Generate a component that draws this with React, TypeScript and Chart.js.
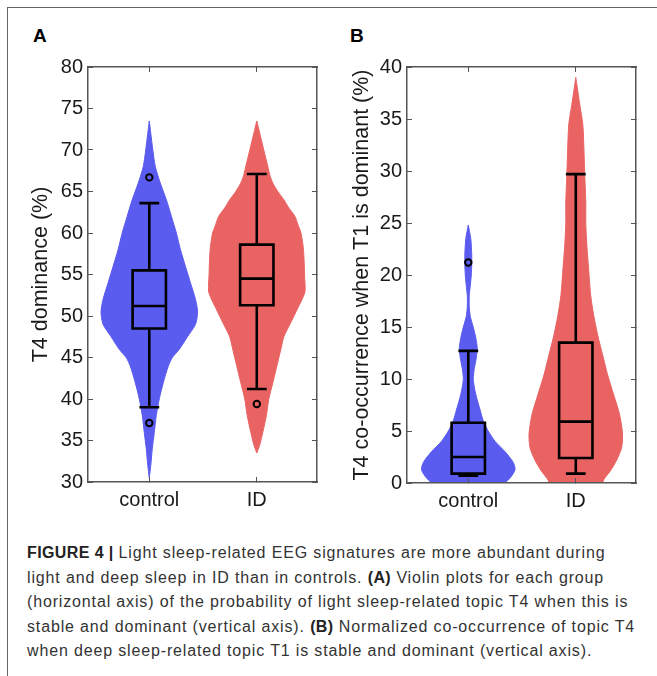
import React, { useEffect, useRef } from 'react';
import Chart from 'chart.js/auto';

// === Groups (x axis) ===
const GROUPS = ['control', 'ID'];
const GROUP_POS = [1, 2];

// === Panel A: T4 dominance (%) ===
// violin outline: y levels and half-width (in group units) at each level
const A_CTRL_LEVELS = [30.5, 32, 34, 36, 38, 40, 42, 44, 45, 46, 47.5, 49, 50.5, 52, 54, 56, 58, 60, 62, 64, 66, 68, 70, 72, 73.5];
const A_CTRL_WIDTH = [0, 0.014, 0.028, 0.047, 0.065, 0.093, 0.131, 0.178, 0.215, 0.28, 0.355, 0.43, 0.449, 0.43, 0.383, 0.336, 0.29, 0.252, 0.206, 0.159, 0.103, 0.056, 0.033, 0.014, 0];
const A_ID_LEVELS = [33.5, 34.5, 36, 38, 40, 42, 44, 46, 47.5, 49, 50, 51, 52, 53, 55, 57, 58.5, 60, 61, 62, 63, 64, 65, 66, 67, 68, 70, 72, 73.5];
const A_ID_WIDTH = [0, 0.028, 0.056, 0.089, 0.112, 0.15, 0.187, 0.224, 0.252, 0.308, 0.346, 0.383, 0.421, 0.449, 0.444, 0.439, 0.43, 0.411, 0.383, 0.355, 0.299, 0.252, 0.196, 0.15, 0.121, 0.103, 0.065, 0.028, 0];
// box: [lower whisker, q1, median, q3, upper whisker]
const A_CTRL_BOX = [39.0, 48.5, 51.2, 55.5, 63.6];
const A_ID_BOX = [41.2, 51.3, 54.5, 58.6, 67.1];
const A_CTRL_OUTLIERS = [66.7, 37.1];
const A_ID_OUTLIERS = [39.4];

// === Panel B: T4 co-occurrence when T1 is dominant (%) ===
const B_CTRL_LEVELS = [-0.8, 0, 0.6, 1.3, 2, 3, 4, 5, 6, 7, 8, 9, 10, 11, 12, 13, 14, 15, 16, 17, 18, 19, 20, 21, 22, 23.5, 24.8];
const B_CTRL_WIDTH = [0.278, 0.343, 0.398, 0.435, 0.417, 0.343, 0.25, 0.185, 0.139, 0.111, 0.083, 0.06, 0.046, 0.056, 0.074, 0.083, 0.069, 0.046, 0.019, 0.009, 0.009, 0.019, 0.028, 0.032, 0.032, 0.023, 0];
const B_ID_LEVELS = [-0.8, 0.3, 1.2, 2.2, 3.4, 4.7, 6.6, 8.5, 10.4, 12.3, 14.2, 16.1, 18, 20.5, 23, 25, 27, 29.7, 32.6, 34.5, 36.4, 38, 39];
const B_ID_WIDTH = [0.222, 0.259, 0.324, 0.38, 0.426, 0.435, 0.407, 0.352, 0.296, 0.25, 0.204, 0.167, 0.139, 0.12, 0.102, 0.093, 0.093, 0.083, 0.074, 0.065, 0.037, 0.014, 0];
const B_CTRL_BOX = [0.7, 0.9, 2.5, 5.8, 12.7];
const B_ID_BOX = [0.9, 2.4, 5.9, 13.5, 29.7];
const B_CTRL_OUTLIERS = [21.2];
const B_ID_OUTLIERS: number[] = [];

// === Caption ===
const CAPTION: [string, boolean][][] = [
  [['FIGURE 4 | ', true], ['Light sleep-related EEG signatures are more abundant during', false]],
  [['light and deep sleep in ID than in controls. ', false], ['(A)', true], [' Violin plots for each group', false]],
  [['(horizontal axis) of the probability of light sleep-related topic T4 when this is', false]],
  [['stable and dominant (vertical axis). ', false], ['(B)', true], [' Normalized co-occurrence of topic T4', false]],
  [['when deep sleep-related topic T1 is stable and dominant (vertical axis).', false]],
];

// === Styles ===
const BLUE = '#5a5bef';
const RED = '#ea6363';
const AXIS = '#555555';
const TEXT = '#1a1a1a';
const FONT = "'Liberation Sans', Arial, Helvetica, sans-serif";
const X_MIN = 0.43;
const X_MAX = 2.56;
const BOX_HALF = 0.155;
const CAP_HALF = 0.08;

const GAP = { x: null, y: null };

const violinPoints = (c: number, levels: number[], widths: number[]) => [
  ...levels.map((y, i) => ({ x: c + widths[i], y })),
  ...levels.map((y, i) => ({ x: c - widths[i], y })).reverse(),
];

const boxPoints = (c: number, [lo, q1, med, q3, hi]: number[]) => [
  { x: c - BOX_HALF, y: q1 }, { x: c + BOX_HALF, y: q1 }, { x: c + BOX_HALF, y: q3 },
  { x: c - BOX_HALF, y: q3 }, { x: c - BOX_HALF, y: q1 }, GAP,
  { x: c - BOX_HALF, y: med }, { x: c + BOX_HALF, y: med }, GAP,
  { x: c, y: q3 }, { x: c, y: hi }, GAP,
  { x: c - CAP_HALF, y: hi }, { x: c + CAP_HALF, y: hi }, GAP,
  { x: c, y: q1 }, { x: c, y: lo }, GAP,
  { x: c - CAP_HALF, y: lo }, { x: c + CAP_HALF, y: lo },
];

interface Group {
  levels: number[];
  widths: number[];
  box: number[];
  outliers: number[];
  color: string;
}

interface PanelProps {
  groups: Group[];
  yMin: number;
  yMax: number;
  yTitle: string;
  left: number;
  top: number;
  width: number;
  height: number;
  padTop: number;
  padRight: number;
  axisW: number;
  axisH: number;
  titlePad: number;
}

const ViolinPanel: React.FC<PanelProps> = (p) => {
  const canvasRef = useRef<HTMLCanvasElement>(null);

  useEffect(() => {
    if (!canvasRef.current) return;

    const inTicks = { drawOnChartArea: false, drawTicks: true, tickLength: -5, color: AXIS, lineWidth: 1, z: 1 };
    const border = { display: true, color: AXIS, width: 1.5, z: 1 };
    const tickFont = { family: FONT, size: 20 };
    const catTicks = (s: any) => { s.ticks = GROUP_POS.map(v => ({ value: v })); };

    const datasets: any[] = [];
    p.groups.forEach((g, i) => {
      const c = GROUP_POS[i];
      datasets.push({
        data: violinPoints(c, g.levels, g.widths),
        fill: 'shape', backgroundColor: g.color, borderColor: g.color, borderWidth: 1,
        pointRadius: 0, tension: 0.25, order: 2,
      });
      datasets.push({
        data: boxPoints(c, g.box),
        fill: false, borderColor: '#000', borderWidth: 2.6, borderJoinStyle: 'miter', borderCapStyle: 'square',
        pointRadius: 0, tension: 0, spanGaps: false, order: 1,
      });
      datasets.push({
        data: g.outliers.map(y => ({ x: c, y })),
        showLine: false, pointRadius: 3.2, pointBorderWidth: 2, pointBorderColor: '#000',
        pointBackgroundColor: 'rgba(0,0,0,0)', order: 0,
      });
    });

    const chart = new Chart(canvasRef.current, {
      type: 'line',
      data: { datasets },
      options: {
        animation: false,
        responsive: false,
        events: [],
        layout: { padding: { top: p.padTop, right: p.padRight, left: 0, bottom: 0 } },
        plugins: { legend: { display: false }, tooltip: { enabled: false } },
        scales: {
          x: {
            type: 'linear', position: 'bottom', min: X_MIN, max: X_MAX, bounds: 'data',
            afterBuildTicks: catTicks,
            afterFit: (s: any) => { s.height = p.axisH; },
            ticks: {
              font: tickFont, color: TEXT, padding: 11.9, maxRotation: 0, autoSkip: false,
              callback: (v: any) => GROUPS[GROUP_POS.indexOf(Number(v))] ?? '',
            },
            grid: inTicks, border,
          },
          x2: {
            type: 'linear', position: 'top', min: X_MIN, max: X_MAX, bounds: 'data',
            afterBuildTicks: catTicks,
            afterFit: (s: any) => { s.height = 0; },
            ticks: { display: false },
            grid: inTicks, border,
          },
          y: {
            type: 'linear', position: 'left', min: p.yMin, max: p.yMax,
            afterFit: (s: any) => { s.width = p.axisW; },
            ticks: { stepSize: 5, font: tickFont, color: TEXT, padding: 10 },
            title: {
              display: true, text: p.yTitle, color: TEXT,
              font: { family: FONT, size: 21.5 }, padding: { top: p.titlePad, bottom: 0 },
            },
            grid: inTicks, border,
          },
          y2: {
            type: 'linear', position: 'right', min: p.yMin, max: p.yMax,
            afterFit: (s: any) => { s.width = 0; },
            ticks: { stepSize: 5, display: false },
            grid: inTicks, border,
          },
        },
      } as any,
    });

    return () => chart.destroy();
  }, []);

  return (
    <canvas
      ref={canvasRef}
      width={p.width}
      height={p.height}
      style={{ position: 'absolute', left: p.left, top: p.top }}
    />
  );
};

const App: React.FC = () => (
  <div style={{ position: 'fixed', left: 0, top: 0, width: 657, height: 676, background: '#fff', overflow: 'hidden' }}>
    {/* figure frame */}
    <div style={{ position: 'absolute', left: 7, top: 7, width: 660, height: 680, borderTop: '1.5px solid #666', borderLeft: '1.5px solid #666' }} />

    {/* panel letters */}
    <div style={{ position: 'absolute', left: 33, top: 25.5, font: `bold 19px ${FONT}`, lineHeight: '19px', color: '#000' }}>A</div>
    <div style={{ position: 'absolute', left: 350, top: 25.5, font: `bold 19px ${FONT}`, lineHeight: '19px', color: '#000' }}>B</div>

    <ViolinPanel
      groups={[
        { levels: A_CTRL_LEVELS, widths: A_CTRL_WIDTH, box: A_CTRL_BOX, outliers: A_CTRL_OUTLIERS, color: BLUE },
        { levels: A_ID_LEVELS, widths: A_ID_WIDTH, box: A_ID_BOX, outliers: A_ID_OUTLIERS, color: RED },
      ]}
      yMin={30} yMax={80} yTitle="T4 dominance (%)"
      left={0} top={45} width={330} height={480}
      padTop={17} padRight={13} axisW={88} axisH={43} titlePad={28.6}
    />
    <ViolinPanel
      groups={[
        { levels: B_CTRL_LEVELS, widths: B_CTRL_WIDTH, box: B_CTRL_BOX, outliers: B_CTRL_OUTLIERS, color: BLUE },
        { levels: B_ID_LEVELS, widths: B_ID_WIDTH, box: B_ID_BOX, outliers: B_ID_OUTLIERS, color: RED },
      ]}
      yMin={0} yMax={40} yTitle="T4 co-occurrence when T1 is dominant (%)"
      left={330} top={45} width={327} height={480}
      padTop={17} padRight={21} axisW={77} axisH={42} titlePad={19}
    />

    {/* caption */}
    <div style={{ position: 'absolute', left: 27, top: 541, fontFamily: FONT, fontSize: 16, lineHeight: '24.5px', color: '#333', whiteSpace: 'nowrap' }}>
      {CAPTION.map((line, i) => (
        <div key={i}>
          {line.map(([t, b], j) => (
            <span key={j} style={b ? { fontWeight: 700, color: '#222', letterSpacing: '0.4px' } : { letterSpacing: '0.85px' }}>{t}</span>
          ))}
        </div>
      ))}
    </div>
  </div>
);

export default App;
